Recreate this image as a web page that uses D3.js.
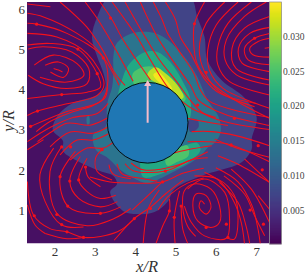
<!DOCTYPE html>
<html><head><meta charset="utf-8">
<script src="https://cdn.jsdelivr.net/npm/d3@7"></script>
<style>html,body{margin:0;padding:0;background:#fff}svg{display:block}</style></head>
<body><svg id="c" width="307" height="278"></svg>
<script>
const xTicks=[2,3,4,5,6,7], yTicks=[1,2,3,4,5,6], cbTicks=[0.005,0.010,0.015,0.020,0.025,0.030];
const xDomain=[1.32,7.33], yDomain=[0.17,6.17], cbDomain=[0.0002,0.0349];
const cylinder={x:4.31,y:3.17,r:1};
const backgroundLevel=0.0016;
const bandLevels=[0.0072,0.0135,0.021,0.0252,0.0315,0.0343];
const band1=[[3.38,6.3],[3.06,5.8],[2.93,5.3],[3.06,4.81],[3.21,4.41],[3.26,4.06],[3.06,3.86],[2.46,3.66],[2.09,3.36],[1.96,2.99],[2.21,2.72],[2.21,2.47],[2.63,2.19],[3.13,1.97],[3.46,1.85],[3.55,1.65],[3.38,1.45],[3.7,0.98],[4.05,0.9],[4.48,0.95],[4.8,1.2],[4.97,1.52],[5.64,1.85],[6.14,2.0],[6.64,2.19],[6.89,2.52],[6.89,2.77],[7.01,3.31],[6.71,3.79],[6.14,4.23],[5.79,4.73],[5.72,5.3],[5.54,5.8],[5.35,6.3]];
const band2=[[3.46,4.81],[3.55,5.15],[3.95,5.4],[4.48,5.4],[4.8,5.23],[5.22,4.81],[5.54,4.31],[5.79,3.74],[6.07,3.31],[6.12,2.94],[5.99,2.69],[5.79,2.54],[5.69,2.42],[5.37,2.17],[5.05,2.0],[4.55,1.75],[4.3,1.67],[3.95,1.8],[3.63,2.0],[3.33,2.29],[3.03,2.49],[2.96,2.87],[3.13,2.99],[3.26,3.06],[3.31,3.66],[3.43,4.06],[3.46,4.48]];
const band2Hole=[[5.32,3.24],[5.54,3.24],[5.57,3.06],[5.37,2.94]];
const band2Patch=[[2.8,3.3],[2.85,3.35],[2.87,3.15],[2.82,3.12]];
const band3Top=[[3.7,4.31],[3.88,4.66],[4.25,4.93],[4.55,4.93],[4.87,4.68],[5.2,4.16],[5.37,3.74],[5.3,3.2],[4.3,3.3],[3.6,3.6]];
const band3Bottom=[[4.2,1.82],[4.7,1.92],[5.3,2.17],[5.62,2.49],[5.54,2.67],[5.2,2.6],[4.6,2.5],[4.2,2.5]];
const band4Top=[[3.93,4.36],[4.13,4.53],[4.45,4.56],[4.8,4.31],[5.12,3.99],[5.25,3.74],[4.6,3.6],[4.1,3.9]];
const band4Bottom=[[4.8,2.1],[5.05,2.2],[5.32,2.35],[5.3,2.6],[5.0,2.5],[4.75,2.25]];
const band5=[[4.3,4.35],[4.5,4.55],[4.75,4.4],[5.05,4.1],[5.2,3.8],[5.05,3.75],[4.7,4.05]];
const band6=[[4.45,4.36],[4.57,4.43],[4.82,4.17],[4.92,4.0],[4.75,4.05]];

const upperRightVortex=[
[[7.21,5.02],[7.33,5.04]],
[[7.33,5.27],[7.05,5.19],[6.84,5.02],[6.92,4.86],[7.33,4.8]],
[[7.33,5.39],[6.96,5.27],[6.71,5.02],[6.8,4.73],[7.33,4.61]],
[[7.33,5.54],[6.84,5.39],[6.56,5.02],[6.65,4.65],[7.33,4.44]],
[[7.33,5.81],[6.71,5.52],[6.4,5.02],[6.5,4.52],[7.33,4.23]],
[[7.25,6.17],[6.71,5.81],[6.26,5.23],[6.23,4.73],[6.51,4.36],[7.33,4.11]],
[[6.88,6.17],[6.3,5.64],[6.05,5.06],[6.05,4.61],[6.34,4.19],[7.33,3.86]],
[[6.55,6.17],[6.01,5.6],[5.8,4.98],[5.84,4.48],[6.17,4.03],[7.33,3.53]],
[[6.22,6.17],[5.76,5.64],[5.59,4.98],[5.72,4.44],[6.09,3.94],[6.96,3.57]],
[[5.72,6.17],[5.47,5.63],[5.45,5.15],[5.53,4.65],[5.76,4.28],[6.46,3.74],[7.33,3.28]]
];
const topFlow=[
[[2.14,6.17],[2.8,5.55],[3.21,4.95],[3.5,4.4],[3.75,4.1]],
[[2.76,6.17],[3.08,5.73],[3.38,5.23],[3.7,4.66],[3.95,4.2]],
[[3.13,6.17],[3.43,5.73],[3.7,5.23],[4.08,4.66],[4.38,4.23]],
[[3.43,6.17],[3.75,5.73],[4.05,5.3],[4.38,4.73],[4.8,4.06],[5.1,3.75],[5.45,3.5],[6.0,3.3]],
[[3.75,6.17],[4.0,5.73],[4.25,5.3],[4.57,4.78],[5.05,4.16],[5.35,3.75],[5.7,3.4],[6.2,3.2],[7.33,3.0]],
[[4.13,6.17],[4.33,5.73],[4.55,5.3],[4.87,4.8],[5.37,4.1],[5.55,3.75],[5.75,3.6],[6.3,3.35],[7.33,3.1]],
[[4.45,6.17],[4.67,5.73],[4.8,5.4],[5.07,4.98],[5.45,4.41],[5.62,3.98],[5.85,3.7],[6.4,3.5],[7.33,3.3]],
[[4.75,6.17],[5.0,5.73],[5.12,5.3],[5.37,4.9],[5.74,4.23],[6.1,3.9],[7.0,3.65]]
];
const upperLeftVortex=[
[[1.98,4.52],[2.1,4.48],[2.2,4.43]],
[[1.77,4.6],[2.1,4.68],[2.35,4.52],[2.23,4.3],[1.9,4.43]],
[[1.5,4.6],[1.97,4.85],[2.56,4.64],[2.73,4.35],[2.31,4.18],[1.64,4.3]],
[[1.35,4.35],[1.72,4.14],[2.31,4.02],[2.81,4.14],[2.85,4.52],[2.43,4.93],[1.72,5.06],[1.35,5.0]],
[[1.33,5.1],[1.9,5.14],[2.58,5.0],[3.06,4.39],[3.14,4.05],[2.81,3.93],[2.18,3.87],[1.33,3.77]],
[[1.33,5.39],[2.06,5.3],[2.81,4.89],[3.23,4.14],[3.06,3.85],[2.31,3.64],[1.58,3.46],[1.33,3.35]],
[[1.33,5.64],[1.56,5.62],[2.31,5.39],[3.21,4.78],[3.31,4.05],[3.14,3.7],[2.31,3.45],[1.41,3.08]],
[[1.33,5.89],[1.73,5.8],[2.56,5.39],[3.06,4.99],[3.4,4.5],[3.6,4.1]],
[[1.33,6.12],[1.9,6.05]]
];
const leftFlow=[
[[1.55,2.95],[1.89,3.2],[2.39,3.42],[2.96,3.6],[3.26,3.8],[3.31,4.05]],
[[1.33,2.7],[1.89,3.05],[2.46,3.3],[3.06,3.4],[3.33,3.65]],
[[1.58,2.7],[1.89,2.92],[2.31,3.16],[2.88,3.11],[3.31,3.29]],
[[1.89,2.57],[2.39,2.94],[2.96,2.91],[3.31,3.06]],
[[2.14,2.37],[2.56,2.74],[2.96,2.74],[3.33,2.89]],
[[2.39,2.24],[2.81,2.54],[3.21,2.54],[3.46,2.69]],
[[1.33,2.5],[1.73,2.75]]
];
const lowerLeftVortex=[
[[2.77,2.08],[2.83,1.83],[3.14,1.58]],
[[3.18,2.5],[3.02,2.29],[3.06,1.96],[3.43,1.75]],
[[2.81,2.29],[2.6,1.75],[2.81,1.46],[3.14,1.29],[3.52,1.37]],
[[2.64,2.33],[2.38,1.72],[2.6,1.29],[3.14,1.08],[3.56,1.21]],
[[2.52,2.46],[2.14,1.83],[2.35,1.08],[3.14,0.92],[3.64,1.08]],
[[2.18,2.58],[1.89,1.96],[2.06,0.92],[2.81,0.61],[3.48,0.79],[3.89,1.04]],
[[1.98,2.54],[1.64,1.88],[1.77,1.21],[2.18,0.63],[2.72,0.58]],
[[1.33,1.71],[1.48,0.88],[1.89,0.54],[2.31,0.46],[2.72,0.32],[3.56,0.46],[3.98,0.79]],
[[1.77,0.42],[2.31,0.29],[2.72,0.32]],
[[1.33,1.13],[1.52,0.63],[1.77,0.42]]
];
const bottomFlow=[
[[2.88,1.82],[3.38,1.7],[3.95,1.67],[4.67,1.7],[5.2,1.92],[5.7,2.04]],
[[3.48,0.25],[3.98,0.79],[4.39,1.08],[4.75,1.4],[5.2,1.75]],
[[3.93,1.0],[4.33,1.37],[4.67,1.7]],
[[4.57,1.0],[4.8,1.32],[5.3,1.67],[5.7,1.8]],
[[4.2,0.18],[4.33,1.05],[4.6,1.5]],
[[3.35,2.13],[3.45,1.9],[3.9,1.78]],
[[3.55,2.15],[3.68,1.9],[4.2,1.78],[4.55,1.72]],
[[3.75,2.15],[3.95,1.98],[4.75,1.97],[5.4,2.25],[5.8,2.3]],
[[3.9,2.17],[4.2,2.0],[5.0,2.1],[5.8,2.45]],
[[4.5,2.3],[5.3,2.5],[5.9,2.6]]
];
const rightFlow=[
[[5.2,3.3],[5.7,3.2],[6.3,3.1]],
[[5.4,2.95],[5.9,2.95],[6.5,2.85],[7.33,2.6]],
[[5.3,2.7],[5.8,2.7],[6.38,2.62],[7.33,2.2]],
[[5.97,2.77],[6.46,2.56],[7.33,2.31]],
[[6.05,2.35],[6.55,2.14],[7.33,1.69]],
[[6.2,1.85],[6.71,1.4],[6.96,0.86],[7.21,0.36]],
[[6.38,2.02],[6.88,1.52],[7.33,0.69]],
[[6.71,2.27],[7.33,1.69]],
[[7.05,1.36],[7.33,1.02]],
[[6.0,2.05],[6.55,1.7],[6.9,1.1],[7.05,0.5],[7.1,0.17]],
[[6.09,1.69],[6.55,1.19],[6.75,0.6],[6.84,0.17]]
];
const lowerRightVortex=[
[[5.72,1.15],[5.63,1.23],[5.59,1.07],[5.76,0.9],[5.88,1.07],[5.76,1.36],[5.51,1.4],[5.43,1.11],[5.55,0.73],[5.88,0.57],[6.09,0.69],[6.09,1.11],[5.88,1.52],[5.47,1.65],[5.22,1.48],[5.18,1.07],[5.3,0.6],[5.5,0.35]],
[[5.3,1.52],[5.72,1.77],[6.22,1.44],[6.34,0.77],[6.26,0.3],[5.72,0.36],[5.39,0.7],[5.22,1.1]],
[[4.85,1.28],[4.85,0.98],[4.68,0.6],[4.52,0.18]],
[[5.1,1.48],[4.97,0.82],[4.99,0.18]],
[[5.14,1.1],[5.18,0.53],[5.3,0.18]],
[[5.72,1.94],[6.13,1.69],[6.46,1.19],[6.63,0.69],[6.71,0.17]],
[[5.47,1.85],[6.05,1.77],[6.46,1.36],[6.55,0.77],[6.46,0.28],[6.3,0.3]]
];
const arrowPoints=[[1.56,5.62],[2.58,5.0],[3.21,4.78],[3.06,4.39],[2.18,3.87],[1.58,3.46],[1.41,3.08],[3.39,5.77],[5.47,5.63],[6.96,5.27],[5.76,4.42],[5.55,3.61],[6.46,3.28],[2.18,2.57],[2.14,1.83],[2.38,1.72],[2.6,1.75],[2.77,2.07],[3.18,2.5],[2.33,1.1],[2.06,0.89],[2.18,0.64],[2.31,0.46],[2.72,0.32],[3.14,0.92],[1.5,0.86],[3.98,0.79],[4.38,1.04],[4.85,0.98],[4.97,0.82],[5.14,1.1],[5.76,0.57],[6.26,0.65],[6.3,0.32],[6.85,1.0],[7.18,0.65],[7.15,2.0],[6.38,2.62],[7.05,2.6],[4.75,1.97],[4.68,1.7],[2.4,2.57]];

const W=307,H=278,L=27,R=269.5,T=2,B=243.5;
const x=d3.scaleLinear().domain(xDomain).range([L,R]);
const y=d3.scaleLinear().domain(yDomain).range([B,T]);
const cb=d3.scaleLinear().domain(cbDomain).range([244,2]);
const col=v=>d3.interpolateViridis((v-cbDomain[0])/(cbDomain[1]-cbDomain[0]));
const svg=d3.select('#c');
svg.append('defs').append('clipPath').attr('id','p').append('rect').attr('x',L).attr('y',T).attr('width',R-L).attr('height',B-T);
const g=svg.append('g').attr('clip-path','url(#p)');
g.append('rect').attr('x',L).attr('y',T).attr('width',R-L).attr('height',B-T).attr('fill',col(backgroundLevel));
const closed=d3.line().x(d=>x(d[0])).y(d=>y(d[1])).curve(d3.curveCatmullRomClosed.alpha(.5));
[[band1,0],[band2,1],[band2Hole,0],[band2Patch,1],[band3Top,2],[band3Bottom,2],[band4Top,3],[band4Bottom,3],[band5,4],[band6,5]].forEach(([b,i])=>{
  g.append('path').attr('d',closed(b)).attr('fill',col(bandLevels[i]));
});
const open=d3.line().x(d=>x(d[0])).y(d=>y(d[1])).curve(d3.curveCatmullRom.alpha(.5));
const allLines=[...upperRightVortex,...topFlow,...upperLeftVortex,...leftFlow,...lowerLeftVortex,...bottomFlow,...rightFlow,...lowerRightVortex];
g.selectAll('path.s').data(allLines).join('path').attr('class','s').attr('d',open).attr('fill','none').attr('stroke','#f4101c').attr('stroke-width',1.05);
g.selectAll('circle.a').data(arrowPoints).join('circle').attr('class','a').attr('cx',d=>x(d[0])).attr('cy',d=>y(d[1])).attr('r',1.6).attr('fill','#f4101c');
const cr=x(cylinder.x+cylinder.r)-x(cylinder.x);
g.append('circle').attr('cx',x(cylinder.x)).attr('cy',y(cylinder.y)).attr('r',cr).attr('fill','#1f77b4').attr('stroke','#000').attr('stroke-width',0.9);
g.append('line').attr('x1',x(cylinder.x)).attr('y1',y(cylinder.y)).attr('x2',x(cylinder.x)).attr('y2',y(cylinder.y+cylinder.r)+3).attr('stroke','#f4bccb').attr('stroke-width',2);
g.append('path').attr('d',d3.line()([[x(cylinder.x)-3.5,y(cylinder.y+cylinder.r)+3.5],[x(cylinder.x),y(cylinder.y+cylinder.r)-2.5],[x(cylinder.x)+3.5,y(cylinder.y+cylinder.r)+3.5]])+'Z').attr('fill','#f4bccb');
const font='"Liberation Serif",serif';
const ax=svg.append('g').attr('transform',`translate(0,${B})`).call(d3.axisBottom(x).tickValues(xTicks).tickFormat(d3.format('d')).tickSize(0).tickPadding(3));
ax.select('.domain').remove();
ax.selectAll('text').attr('font-family',font).attr('font-size',13).attr('fill','#333');
const ay=svg.append('g').attr('transform',`translate(${L},0)`).call(d3.axisLeft(y).tickValues(yTicks).tickFormat(d3.format('d')).tickSize(0).tickPadding(2));
ay.select('.domain').remove();
ay.selectAll('text').attr('font-family',font).attr('font-size',13).attr('fill','#333');
svg.append('text').attr('x',147).attr('y',272).attr('text-anchor','middle').attr('font-family',font).attr('font-style','italic').attr('font-size',16.5).attr('fill','#333').text('x/R');
svg.append('text').attr('transform','translate(13.5,121) rotate(-90)').attr('text-anchor','middle').attr('font-family',font).attr('font-style','italic').attr('font-size',16).attr('fill','#333').text('y/R');
const cg=svg.append('g');
const steps=d3.range(0,242);
cg.selectAll('rect').data(steps).join('rect').attr('x',269.5).attr('width',12).attr('y',d=>244-d-1).attr('height',1.3).attr('fill',d=>col(cb.invert(244-d-0.5)));
cg.append('rect').attr('x',269.5).attr('y',2).attr('width',12).attr('height',242).attr('fill','none').attr('stroke','#888').attr('stroke-width',0.7);
const ac=svg.append('g').attr('transform','translate(281.5,0)').call(d3.axisRight(cb).tickValues(cbTicks).tickFormat(d3.format('.3f')).tickSize(0).tickPadding(1.5));
ac.select('.domain').remove();
ac.selectAll('text').attr('font-family',font).attr('font-size',9.5).attr('fill','#444');
</script></body></html>
